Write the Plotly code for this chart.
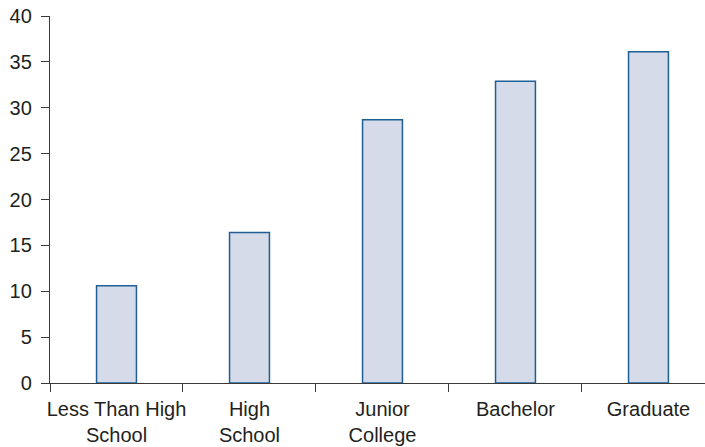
import plotly.graph_objects as go

# Education level categories and their values
categories = ["Less Than High<br>School", "High<br>School", "Junior<br>College", "Bachelor", "Graduate"]
values = [10.6, 16.4, 28.7, 32.9, 36.1]
y_ticks = [0, 5, 10, 15, 20, 25, 30, 35, 40]

axis_color = "#3a3a3a"
text_color = "#231f20"

fig = go.Figure(
    go.Bar(
        x=categories,
        y=values,
        marker=dict(color="#d5dbe9", line=dict(color="#1f5f96", width=1.5)),
        width=0.3,
    )
)

fig.update_layout(
    template="none",
    width=705,
    height=447,
    margin=dict(l=50, r=0, t=16, b=64),
    paper_bgcolor="white",
    plot_bgcolor="white",
    font=dict(family="Liberation Sans, Arial, sans-serif", size=20, color=text_color),
    showlegend=False,
)

fig.update_xaxes(
    type="category",
    range=[-0.5, 4.425],
    tickangle=0,
    showline=True,
    linecolor=axis_color,
    linewidth=1.3,
    ticks="outside",
    tickson="boundaries",
    ticklen=8,
    tickwidth=1.3,
    tickcolor=axis_color,
    ticklabelstandoff=8,
    showgrid=False,
    zeroline=False,
    automargin=False,
)

fig.update_yaxes(
    range=[0, 40],
    tickvals=y_ticks,
    ticktext=[str(v) for v in y_ticks],
    showline=True,
    linecolor=axis_color,
    linewidth=1.3,
    ticks="outside",
    ticklen=8,
    tickwidth=1.3,
    tickcolor=axis_color,
    ticklabelstandoff=5,
    showgrid=False,
    zeroline=False,
    automargin=False,
)

fig.write_html("out.html")
